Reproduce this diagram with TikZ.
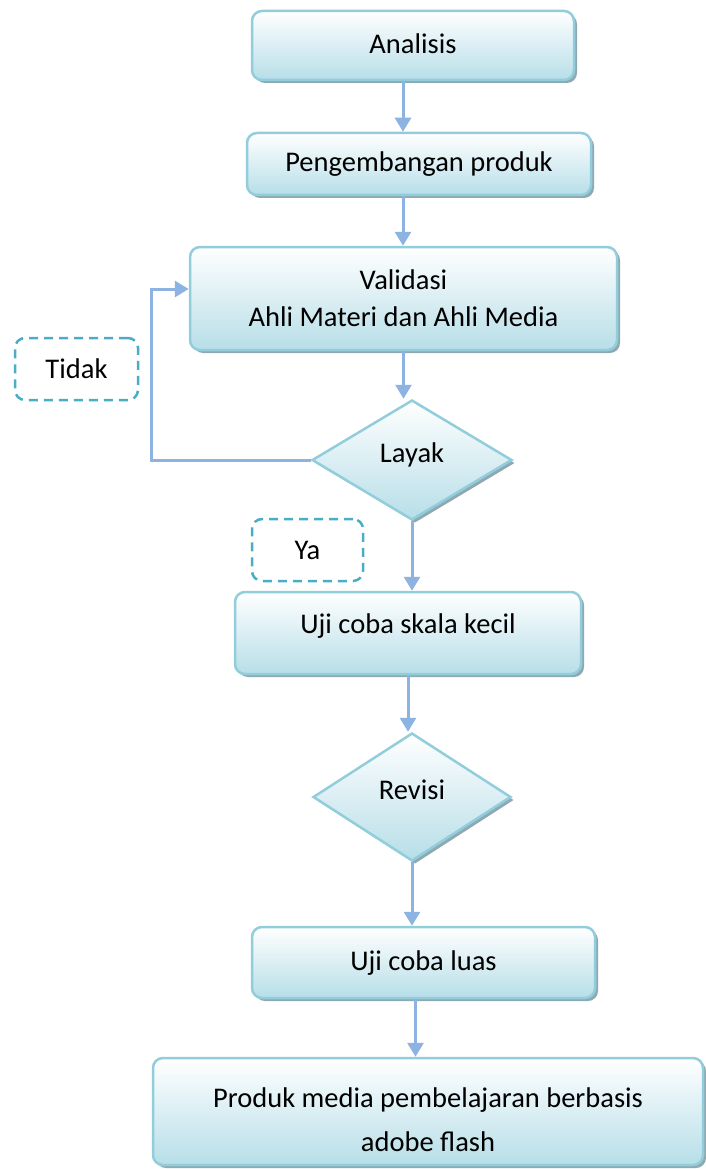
\documentclass[tikz,border=0pt]{standalone}
\usepackage{fontspec}
\setmainfont{Carlito}
\usetikzlibrary{shapes.geometric,shadows,arrows.meta}

\definecolor{boxline}{HTML}{92CDDC}
\definecolor{boxfill}{HTML}{B7DEE8}
\definecolor{boxshadow}{HTML}{8EA9B2}
\definecolor{arrowc}{HTML}{8DB3E2}
\definecolor{dashc}{HTML}{4BACC6}

\begin{document}
\begin{tikzpicture}[
        x=1pt, y=-1pt,
        every node/.style={font=\fontsize{28.5}{37}\selectfont, align=center, inner sep=0pt},
        proc/.style={draw=boxline, line width=2.5pt, rounded corners=10pt,
            top color=white, bottom color=boxfill,
            drop shadow={shadow xshift=3pt, shadow yshift=-3pt, fill=boxshadow, opacity=1}},
        oneline/.style={text height=20pt, text depth=4pt},
        dec/.style={proc, diamond, sharp corners, text height=14pt, text depth=10pt},
        note/.style={draw=dashc, line width=2.5pt, dash pattern=on 9pt off 6pt,
            rounded corners=10pt, text height=20pt, text depth=2pt},
        ar/.style={-{Triangle[width=16pt,length=14pt]}, draw=arrowc, line width=3pt},
    ]
    \useasboundingbox (0,0) rectangle (705,1169);

    \node[proc, oneline, minimum width=322pt, minimum height=69pt](analisis) at (413,45.5) {Analisis};
    \node[proc, oneline, minimum width=344pt, minimum height=62pt](pengemb) at (419,164) {Pengembangan produk};
    \node[proc, minimum width=427pt, minimum height=103pt](valid) at (403.5,298.5) {Validasi\\Ahli Materi dan Ahli Media};
    \node[dec, minimum width=200pt, minimum height=120pt](layak) at (412,460) {Layak};
    \node[note, minimum width=123pt, minimum height=62pt](tidak) at (76.5,369) {Tidak};
    \node[note, minimum width=111pt, minimum height=62pt](ya) at (307.5,550) {Ya};
    \node[proc, text height=20pt, text depth=20pt, minimum width=346pt, minimum height=82pt](ujikecil) at (408,633) {Uji coba skala kecil};
    \node[dec, minimum width=198pt, minimum height=128pt](revisi) at (412,797) {Revisi};
    \node[proc, oneline, minimum width=343pt, minimum height=71pt](ujiluas) at (423.5,962.5) {Uji coba luas};
    \node[proc, minimum width=550pt, minimum height=107pt](produk) at (428,1111.5)
        {\rule{0pt}{37pt}Produk media pembelajaran berbasis\\[7pt]adobe flash};

    \draw[ar] ([xshift=-10pt]analisis.south) -- ([xshift=-10pt]analisis.south |- pengemb.north);
    \draw[ar] ([xshift=-16pt]pengemb.south) -- ([xshift=-16pt]pengemb.south |- valid.north);
    \draw[ar] (valid.south) -- (valid.south |- layak.north);
    \draw[ar] (layak.south) -- (layak.south |- ujikecil.north);
    \draw[ar] (ujikecil.south) -- (ujikecil.south |- revisi.north);
    \draw[ar] (revisi.south) -- (revisi.south |- ujiluas.north);
    \draw[ar] ([xshift=-8pt]ujiluas.south) -- ([xshift=-8pt]ujiluas.south |- produk.north);
    \draw[ar] (layak.west) -- ++(-159,0) |- ([yshift=9.5pt]valid.west);
\end{tikzpicture}
\end{document}
